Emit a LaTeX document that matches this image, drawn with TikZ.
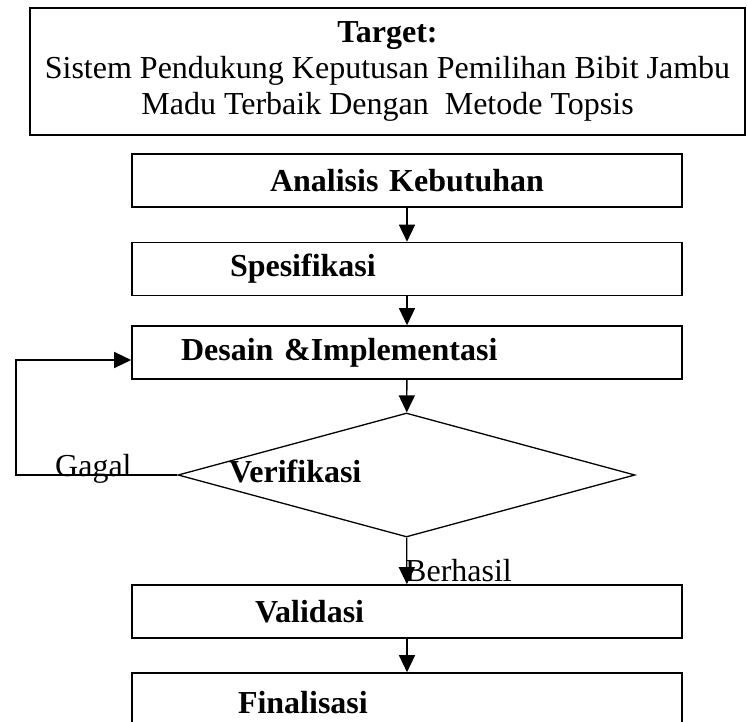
\documentclass[tikz,border=0pt]{standalone}
\usepackage{fontspec}
\setmainfont{Liberation Serif}
\usetikzlibrary{shapes.geometric,arrows.meta}
\begin{document}
\fontsize{32}{36}\selectfont
\begin{tikzpicture}[x=1pt,y=-1pt,
    box/.style={draw,line width=1.6pt,minimum width=550pt,minimum height=53pt,
      text width=540pt,inner xsep=5pt,inner ysep=0pt,align=left,font=\bfseries},
    line/.style={line width=1.3pt},
    arr/.style={line,-{Triangle[length=17pt,width=16pt]}},
    lbl/.style={inner sep=0pt}]
  \useasboundingbox (0,0) rectangle (747,722);
  \node[draw,line width=1.6pt,minimum width=715pt,minimum height=127pt,align=center](target) at (387.5,71.5)
    {\textbf{Target:}\\Sistem Pendukung Keputusan Pemilihan Bibit Jambu\\Madu Terbaik Dengan~ Metode Topsis};
  \node[box,align=center](analisis) at (407,180.5){Analisis Kebutuhan};
  \node[box](spesifikasi) at (407,269){\hspace*{93pt}Spesifikasi};
  \node[box](desain) at (407,352.5){\hspace*{44pt}Desain \&Implementasi};
  \node[diamond,draw,line width=1.3pt,minimum width=457pt,minimum height=124pt,inner sep=0pt](verifikasi) at (406.5,475){};
  \node[lbl,anchor=base west,font=\bfseries](verifikasiteks) at (229,482){Verifikasi};
  \node[box](validasi) at (407,611.5){\hspace*{118pt}Validasi};
  \node[box,minimum height=60pt](finalisasi) at (407,703){\hspace*{101pt}Finalisasi};
  \coordinate (balik) at (16,475);
  \draw[arr](analisis) -- (spesifikasi);
  \draw[arr](spesifikasi) -- (desain);
  \draw[arr](desain) -- (verifikasi);
  \draw[arr](verifikasi) -- (validasi);
  \draw[arr](validasi) -- (finalisasi);
  \draw[arr](verifikasi.west) -- (balik) |- ([yshift=-7.5pt]desain.west);
  \node[lbl,anchor=base west](gagal) at (55,476){Gagal};
  \node[lbl,anchor=base west](berhasil) at (405,581){Berhasil};
\end{tikzpicture}
\end{document}
